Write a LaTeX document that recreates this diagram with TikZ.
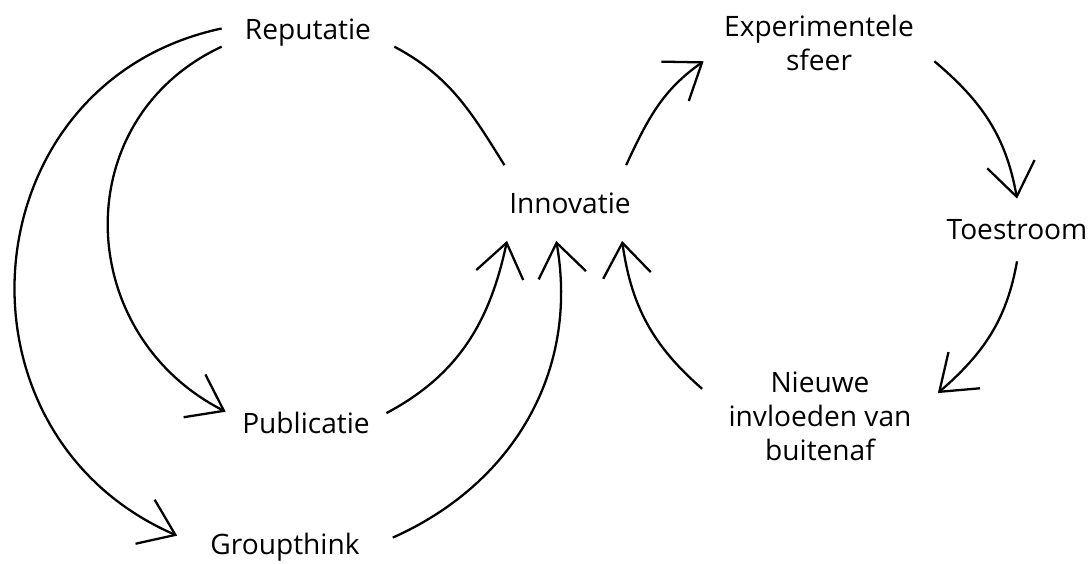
\documentclass[tikz,border=0pt]{standalone}
\usepackage{fontspec}
\setmainfont{Open Sans}
\usetikzlibrary{arrows.meta, positioning}

\begin{document}
\begin{tikzpicture}[
  label/.style={inner sep=0pt, align=center, font=\fontsize{16}{19.4}\selectfont},
  link/.style={line width=1.3pt, black},
  arrow/.style={link, -{Straight Barb[length=0.66cm, width=0.96cm]}}
]
  \useasboundingbox (0,0) rectangle (21.8,-11.26);

  % Concepts
  \node[label, minimum width=3.44cm, minimum height=1cm] (rep) at (6.16,-0.66) {Reputatie};
  \node[label, minimum width=3.4cm, minimum height=1.5cm] (innov) at (11.4,-4.06) {Innovatie};
  \node[label, minimum width=4.6cm, minimum height=1.2cm] (exp) at (16.38,-0.86) {Experimentele\\sfeer};
  \node[label, minimum width=2.8cm, minimum height=1.24cm] (toe) at (20.34,-4.6) {Toestroom};
  \node[label, minimum width=4.7cm, minimum height=2.3cm] (nieuw) at (16.4,-8.32) {Nieuwe\\invloeden van\\buitenaf};
  \node[label, minimum width=3.2cm, minimum height=1cm] (pub) at (6.12,-8.46) {Publicatie};
  \node[label, minimum width=4.3cm, minimum height=1cm] (group) at (5.7,-10.94) {Groupthink};

  % Right loop
  \draw[arrow] (innov.34.6) to[out=65, in=-145] (exp.-171.3);
  \draw[arrow] (exp.-9.5) to[out=-40, in=100] (toe.north);
  \draw[arrow] (toe.south) to[out=-100, in=41] (nieuw.11.4);
  \draw[arrow] (nieuw.167.7) to[out=139, in=-82] (innov.-36.1);

  % Left side
  \draw[link] (rep.-9.2) to[out=-28, in=122] (innov.150.6);
  \draw[arrow] (rep.-171.2) to[out=-155, in=153, looseness=1.2] (pub.172);
  \draw[arrow] (rep.177.3) to[out=-168, in=156.5, looseness=1.3] (group.174.1);
  \draw[arrow] (pub.7.6) to[out=28, in=-102] (innov.-149.3);
  \draw[arrow] (group.5.3) to[out=24, in=-80] (innov.-110.4);
\end{tikzpicture}
\end{document}
